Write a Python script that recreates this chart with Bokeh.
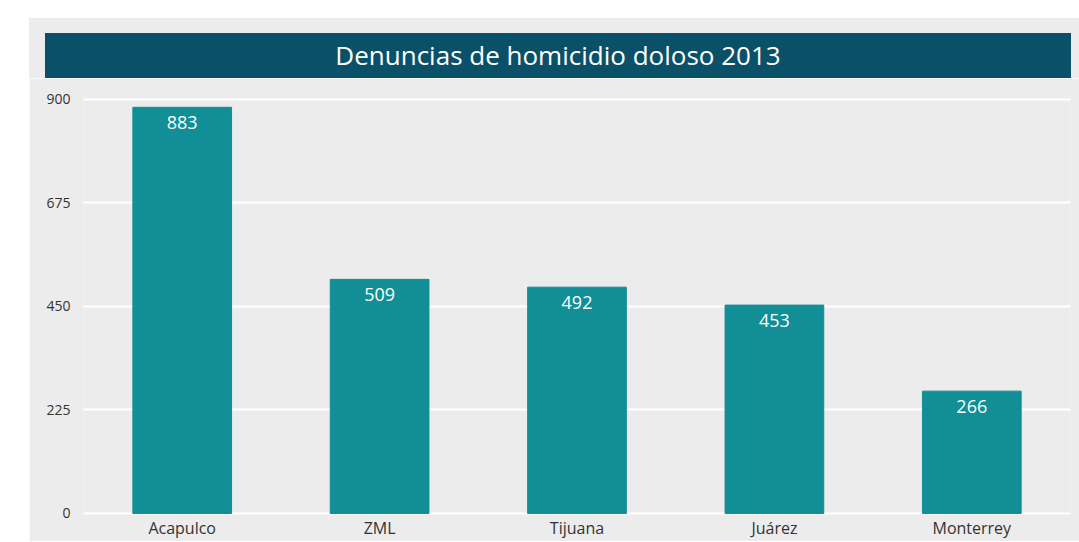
from bokeh.plotting import figure
from bokeh.models import ColumnDataSource, LabelSet, Range1d, FixedTicker, Div, Spacer
from bokeh.layouts import column, row
from bokeh.core.properties import value
from bokeh.embed import file_html
from bokeh.resources import INLINE

title_text = "Denuncias de homicidio doloso 2013"
cities = ["Acapulco", "ZML", "Tijuana", "Juárez", "Monterrey"]
values = [883, 509, 492, 453, 266]
yticks = [0, 225, 450, 675, 900]

FONT = "Open Sans"
GREY = "#ececec"
BAR = "#128e96"
BANNER = "#0b5069"

src = ColumnDataSource(dict(city=cities, value=values, label=[str(v) for v in values]))

banner = Div(
    text=(
        f'<div style="margin:15px 0 0 16px;width:1026px;height:45px;line-height:45px;'
        f'background:{BANNER};color:#ffffff;text-align:center;font-family:\'{FONT}\';'
        f'font-size:26px;">{title_text}</div>'
    ),
    width=1050, height=60,
    styles={"background-color": GREY, "margin": "0", "padding": "0"},
)

p = figure(
    x_range=cities, y_range=Range1d(-2.2, 915.2),
    width=1050, height=463,
    output_backend="svg", toolbar_location=None,
    min_border_left=54, min_border_right=9, min_border_top=14, min_border_bottom=20,
)
p.border_fill_color = GREY
p.background_fill_color = GREY
p.outline_line_color = None

p.vbar(x="city", top="value", width=0.5, source=src, color=BAR)

labels = LabelSet(
    x="city", y="value", text="label", source=src,
    text_color="#ffffff", text_align="center", text_baseline="top",
    y_offset=-9, text_font_size="18px", text_font=value(FONT),
)
p.add_layout(labels)

p.yaxis.ticker = FixedTicker(ticks=yticks)
p.xgrid.visible = False
p.ygrid.grid_line_color = "#ffffff"
p.ygrid.grid_line_width = 2

for ax in (p.xaxis, p.yaxis):
    ax.axis_line_color = None
    ax.major_tick_line_color = None
    ax.minor_tick_line_color = None
    ax.major_label_text_font = FONT
    ax.major_label_text_color = "#333333"

p.yaxis.major_label_text_font_size = "14px"
p.yaxis.major_label_standoff = 7
p.xaxis.major_label_text_font_size = "16px"
p.xaxis.major_label_standoff = -4

layout = row(Spacer(width=29), column(Spacer(height=18), banner, p))

open("out.html", "w").write(file_html(layout, INLINE))
